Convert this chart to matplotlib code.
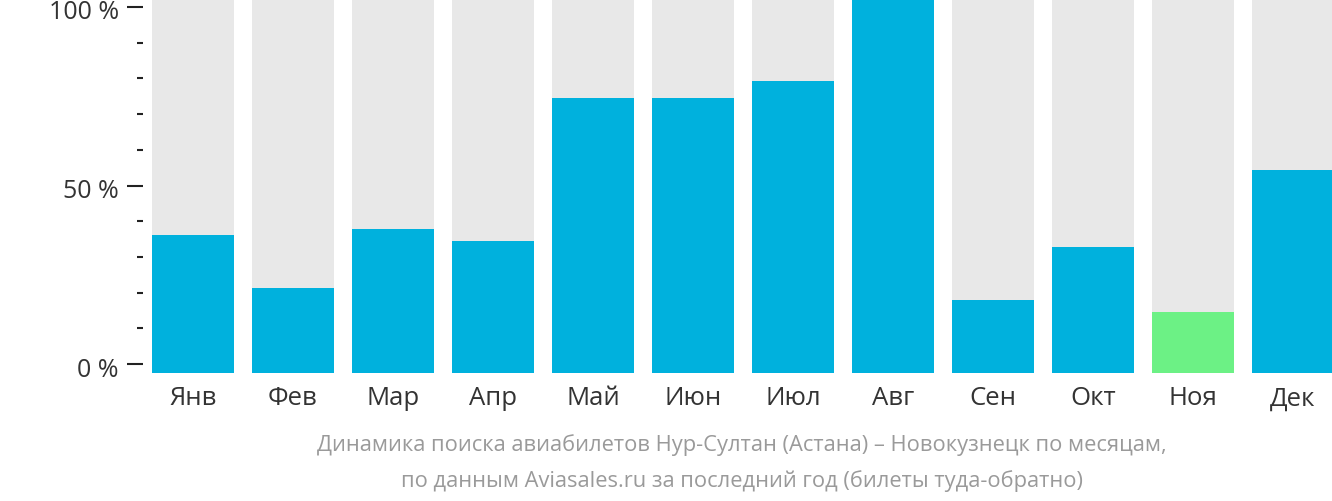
import matplotlib
matplotlib.use("Agg")
import matplotlib.pyplot as plt
import matplotlib.transforms as mtransforms
from matplotlib.ticker import FixedLocator

months = ["Янв", "Фев", "Мар", "Апр", "Май", "Июн", "Июл", "Авг", "Сен", "Окт", "Ноя", "Дек"]
values = [36.1, 21.3, 37.8, 34.5, 74.5, 74.5, 79.3, 103.0, 17.9, 32.8, 14.6, 54.3]
highlight = [False] * 10 + [True, False]
ytick_vals = [0, 50, 100]
ytick_labels = ["0 %", "50 %", "100 %"]
caption_lines = ["Динамика поиска авиабилетов Нур-Султан (Астана) – Новокузнецк по месяцам,",
                 "по данным Aviasales.ru за последний год (билеты туда-обратно)"]

plt.rcParams['font.family'] = ['Open Sans', 'DejaVu Sans']

fig = plt.figure(figsize=(13.32, 5.02), dpi=100)
ax = fig.add_axes([143/1332, 1 - 374/502, 1 - 143/1332, 374/502])

ymin, ymax = -2.52, 102.24
x = list(range(len(months)))
ax.bar(x, [ymax - ymin] * len(x), bottom=ymin, width=0.82, color="#E8E8E8", zorder=1)
colors = ["#6CF185" if h else "#00B1DD" for h in highlight]
ax.bar(x, [v - ymin for v in values], bottom=ymin, width=0.82, color=colors, zorder=2)

ax.set_xlim(-0.5, 11.39)
ax.set_ylim(ymin, ymax)

for s in ax.spines.values():
    s.set_visible(False)

ax.yaxis.set_major_locator(FixedLocator(ytick_vals))
ax.set_yticklabels(ytick_labels)
ax.yaxis.set_minor_locator(FixedLocator([v for v in range(10, 100, 10) if v != 50]))
ax.tick_params(axis='y', which='major', length=11.5, width=1.5, color="#222222",
               labelsize=18, labelcolor="#333333", pad=6)
ax.tick_params(axis='y', which='minor', length=4.5, width=1.5, color="#222222")
shift = mtransforms.ScaledTranslation(0, -2/100, fig.dpi_scale_trans)
for lbl in ax.get_yticklabels():
    lbl.set_transform(lbl.get_transform() + shift)

ax.set_xticks(x)
ax.set_xticklabels(months)
ax.tick_params(axis='x', length=0, labelsize=18.5, labelcolor="#333333", pad=9)

for i, line in enumerate(caption_lines):
    fig.text(742/1332, 1 - (445 + 36 * i)/502, line, ha='center', va='center',
             fontsize=15.75, color="#9A9A9A")

fig.savefig("out.png", dpi=100)
